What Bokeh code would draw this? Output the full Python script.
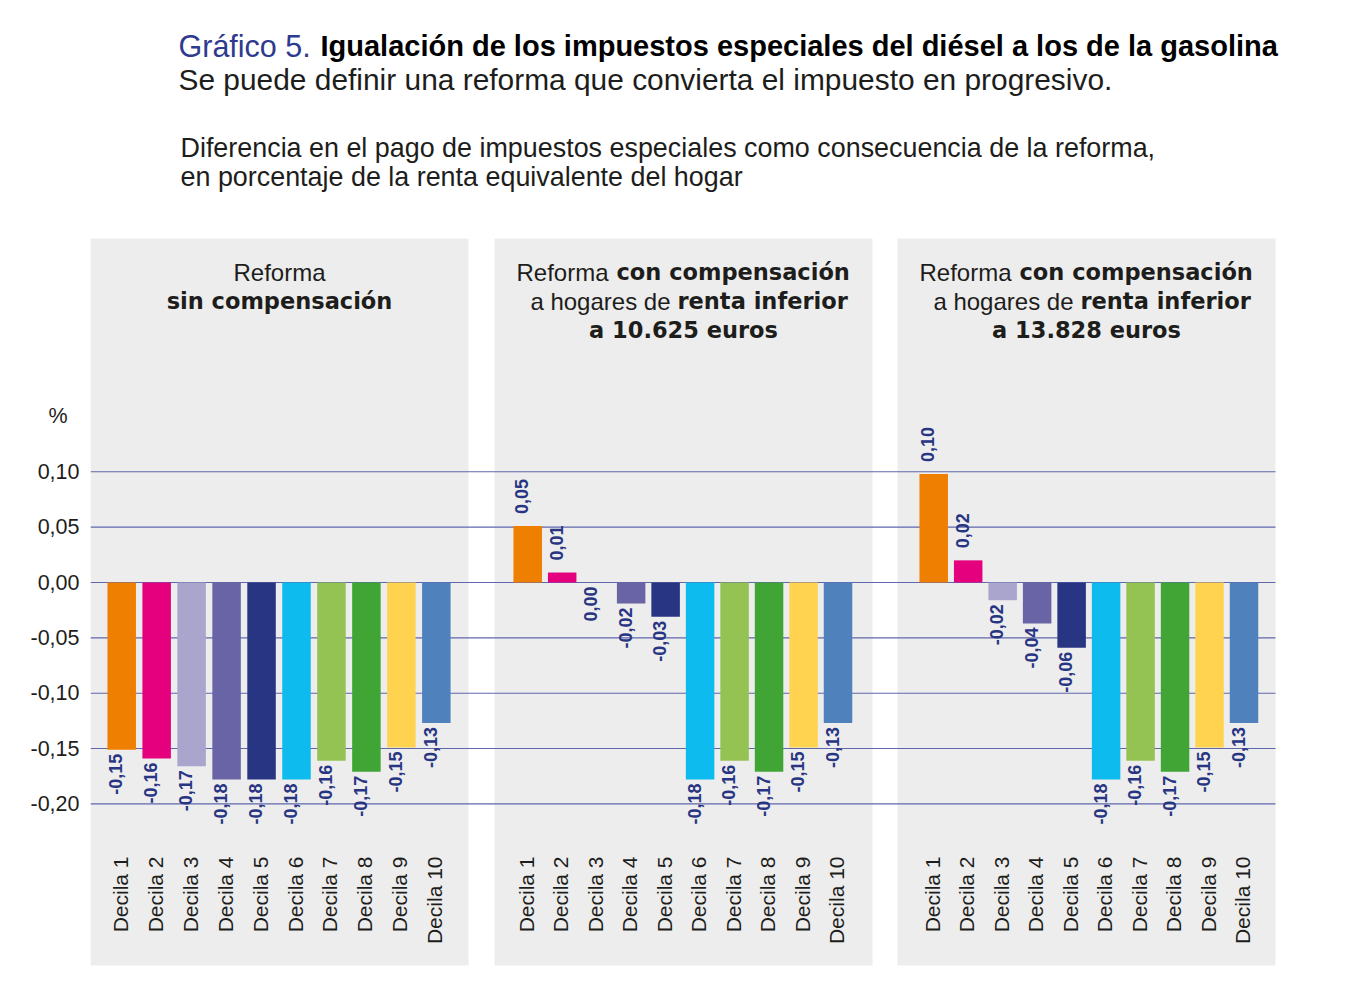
import math
from bokeh.plotting import figure
from bokeh.models import Range1d, FixedTicker, CustomJSTickFormatter
from bokeh.core.properties import value
from bokeh.embed import file_html
from bokeh.resources import INLINE

# ---------------- data ----------------
deciles = ["Decila 1", "Decila 2", "Decila 3", "Decila 4", "Decila 5",
           "Decila 6", "Decila 7", "Decila 8", "Decila 9", "Decila 10"]
sin_compensacion = [-0.151, -0.159, -0.166, -0.178, -0.178, -0.178, -0.161, -0.171, -0.149, -0.127]
comp_10625 = [0.051, 0.009, 0.000, -0.019, -0.031, -0.178, -0.161, -0.171, -0.149, -0.127]
comp_13828 = [0.098, 0.020, -0.016, -0.037, -0.059, -0.178, -0.161, -0.171, -0.149, -0.127]
yticks = [-0.20, -0.15, -0.10, -0.05, 0.00, 0.05, 0.10]
unit_label = "%"
bar_colors = ["#EF7F00", "#E5007D", "#A9A5CD", "#6864A6", "#283583",
              "#0DBBEE", "#95C353", "#40A535", "#FFD34F", "#4F81BD"]

title_a = "Gráfico 5."
title_b = "Igualación de los impuestos especiales del diésel a los de la gasolina"
subtitle = "Se puede definir una reforma que convierta el impuesto en progresivo."
desc1 = "Diferencia en el pago de impuestos especiales como consecuencia de la reforma,"
desc2 = "en porcentaje de la renta equivalente del hogar"
headers = [
    [[("Reforma", False)], [("sin compensación", True)]],
    [[("Reforma", False), ("con compensación", True)],
     [("a hogares de", False), ("renta inferior", True)],
     [("a 10.625 euros", True)]],
    [[("Reforma", False), ("con compensación", True)],
     [("a hogares de", False), ("renta inferior", True)],
     [("a 13.828 euros", True)]],
]
panels = [sin_compensacion, comp_10625, comp_13828]

# ---------------- layout constants (page pixels) ----------------
PPU = 1107.0          # pixels per unit of y
ZERO_Y = 582.0        # page y of value 0
FRAME_TOP, FRAME_BOT = 8, 990
FRAME_L, FRAME_R = 90, 1310
PANEL_LEFT = [90, 494, 897]
PANEL_W = 378
PANEL_TOP, PANEL_BOT = 238, 965
FIRST = [121.2, 527.2, 933.2]
PITCH = [34.96, 34.48, 34.48]
BAR_W = 28.5
UNIT_Y = 416


def py(page_y):
    return (ZERO_Y - page_y) / PPU


TXT = "#1D1D1B"
NAVY = "#283583"
REG = "Liberation Sans"
BOLD = "DejaVu Sans"

p = figure(width=FRAME_R, height=FRAME_BOT,
           x_range=Range1d(FRAME_L, FRAME_R), y_range=Range1d(py(FRAME_BOT), py(FRAME_TOP)),
           output_backend="svg", toolbar_location=None, x_axis_location=None,
           min_border_left=FRAME_L, min_border_right=0, min_border_top=FRAME_TOP, min_border_bottom=0)
p.grid.visible = False
p.outline_line_color = None
p.background_fill_color = "white"
p.border_fill_color = "white"

unit_tick = round(py(UNIT_Y), 4)
ax = p.yaxis[0]
ax.ticker = FixedTicker(ticks=yticks + [unit_tick])
ax.formatter = CustomJSTickFormatter(
    args=dict(ut=unit_tick, ul=unit_label),
    code="if (Math.abs(tick - ut) < 1e-6) { return ul + '\\u00a0\\u00a0'; } return tick.toFixed(2).replace('.', ',');")
ax.axis_line_color = None
ax.major_tick_line_color = None
ax.minor_tick_line_color = None
ax.major_tick_out = 0
ax.major_tick_in = 0
ax.major_label_standoff = 11
ax.major_label_text_font = REG
ax.major_label_text_font_size = "21.5px"
ax.major_label_text_color = TXT

# panel backgrounds
p.quad(left=PANEL_LEFT, right=[l + PANEL_W for l in PANEL_LEFT],
       top=[py(PANEL_TOP)] * 3, bottom=[py(PANEL_BOT)] * 3,
       fill_color="#EDEDED", line_color=None)

# grid lines
p.segment(x0=[PANEL_LEFT[0]] * len(yticks), x1=[PANEL_LEFT[2] + PANEL_W] * len(yticks),
          y0=yticks, y1=yticks, line_color="#5F67AC", line_width=1.1)

for k, vals in enumerate(panels):
    xs = [FIRST[k] + i * PITCH[k] for i in range(len(vals))]
    p.vbar(x=xs, top=vals, bottom=0, width=BAR_W, fill_color=bar_colors, line_color=None)
    # value labels
    lab = [f"{v:.2f}".replace(".", ",") for v in vals]
    pos = [i for i, v in enumerate(vals) if v > 0]
    neg = [i for i, v in enumerate(vals) if v <= 0]
    p.text(x=[xs[i] - 6 for i in pos], y=[vals[i] + 12 / PPU for i in pos], text=[lab[i] for i in pos],
           angle=math.pi / 2, text_align="left", text_baseline="alphabetic",
           text_font=value(REG), text_font_style="bold", text_font_size="18px", text_color=NAVY)
    p.text(x=[xs[i] - 6 for i in neg], y=[vals[i] - 4 / PPU for i in neg], text=[lab[i] for i in neg],
           angle=math.pi / 2, text_align="right", text_baseline="alphabetic",
           text_font=value(REG), text_font_style="bold", text_font_size="18px", text_color=NAVY)
    # decile labels
    p.text(x=[x - 1.5 for x in xs], y=[py(856)] * len(xs), text=deciles,
           angle=math.pi / 2, text_align="right", text_baseline="alphabetic",
           text_font=value(REG), text_font_size="21px", text_color=TXT)
    # headers
    left = PANEL_LEFT[k]
    center = left + PANEL_W / 2
    splits = [(114, 122), (176, 183)]
    for li, line in enumerate(headers[k]):
        base = py(271.5 + li * 29)
        if len(line) == 1:
            t, b = line[0]
            p.text(x=[center], y=[base], text=[t], text_align="center", text_baseline="alphabetic",
                   text_font=value(BOLD if b else REG), text_font_style="bold" if b else "normal",
                   text_font_size="22.5px" if b else "24px", text_color=TXT)
        else:
            (t1, _), (t2, _) = line
            r_edge, l_edge = splits[li]
            p.text(x=[left + r_edge], y=[base], text=[t1], text_align="right", text_baseline="alphabetic",
                   text_font=value(REG), text_font_size="24px", text_color=TXT)
            p.text(x=[left + l_edge], y=[base], text=[t2], text_align="left", text_baseline="alphabetic",
                   text_font=value(BOLD), text_font_style="bold", text_font_size="22.5px", text_color=TXT)

# titles
p.text(x=[178], y=[py(45)], text=[title_a], text_align="left", text_baseline="alphabetic",
       text_font=value(REG), text_font_size="30.5px", text_color="#2E3A8F")
p.text(x=[320], y=[py(45)], text=[title_b], text_align="left", text_baseline="alphabetic",
       text_font=value(REG), text_font_style="bold", text_font_size="29px", text_color="#000000")
p.text(x=[178], y=[py(79)], text=[subtitle], text_align="left", text_baseline="alphabetic",
       text_font=value(REG), text_font_size="29.9px", text_color=TXT)
p.text(x=[180, 180], y=[py(147.5), py(176.5)], text=[desc1, desc2], text_align="left",
       text_baseline="alphabetic", text_font=value(REG), text_font_size="26.9px", text_color=TXT)

open("out.html", "w").write(file_html(p, INLINE))
